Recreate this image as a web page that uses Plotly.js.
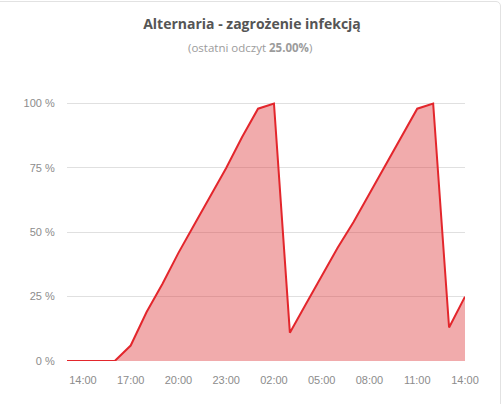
<!DOCTYPE html>
<html>
<head>
<meta charset="utf-8">
<script src="https://cdn.plot.ly/plotly-3.0.1.min.js"></script>
<style>
  html, body { margin: 0; padding: 0; background: #fff; overflow: hidden; }
  #card {
    position: absolute; left: -10px; top: 1px; width: 511px; height: 500px;
    border: 1px solid #e2e2e2; border-radius: 5px; box-sizing: border-box;
  }
  #chart { position: absolute; left: 0; top: 0; width: 504px; height: 404px; }
</style>
</head>
<body>
<div id="card"></div>
<div id="chart"></div>
<script>
// hourly readings, 13:00 to 14:00 next day
const times = [
  "2021-06-14 13:00", "2021-06-14 14:00", "2021-06-14 15:00", "2021-06-14 16:00",
  "2021-06-14 17:00", "2021-06-14 18:00", "2021-06-14 19:00", "2021-06-14 20:00",
  "2021-06-14 21:00", "2021-06-14 22:00", "2021-06-14 23:00", "2021-06-15 00:00",
  "2021-06-15 01:00", "2021-06-15 02:00", "2021-06-15 03:00", "2021-06-15 04:00",
  "2021-06-15 05:00", "2021-06-15 06:00", "2021-06-15 07:00", "2021-06-15 08:00",
  "2021-06-15 09:00", "2021-06-15 10:00", "2021-06-15 11:00", "2021-06-15 12:00",
  "2021-06-15 13:00", "2021-06-15 14:00",
];
const risk = [
  0, 0, 0, 0, 6, 19, 30, 42, 53, 64, 75, 87, 98, 100,
  11, 22, 33, 44, 54, 65, 76, 87, 98, 100, 13, 25,
];
const yTicks = [0, 25, 50, 75, 100];

const tickFont = { family: "'Liberation Sans', Arial, sans-serif", size: 11, color: "#8c8c8c" };

const trace = {
  x: times,
  y: risk,
  type: "scatter",
  mode: "lines",
  fill: "tozeroy",
  fillcolor: "rgba(222, 50, 54, 0.41)",
  line: { color: "#e3262c", width: 2 },
  hoverinfo: "skip",
};

const layout = {
  width: 504,
  height: 404,
  margin: { l: 67, r: 39, t: 102, b: 43, pad: 0 },
  paper_bgcolor: "rgba(0,0,0,0)",
  plot_bgcolor: "rgba(0,0,0,0)",
  showlegend: false,
  title: {
    text: "<b>Alternaria - zagrożenie infekcją</b>",
    x: 0.5,
    xanchor: "center",
    xref: "container",
    y: 1 - 24 / 404,
    yanchor: "middle",
    font: { family: "'Open Sans', Lato, sans-serif", size: 14, color: "#555555" },
  },
  annotations: [
    {
      text: "(ostatni odczyt <b>25.00%</b>)",
      xref: "paper",
      yref: "paper",
      x: (250 - 67) / 398,
      y: (361 - 48) / 259,
      xanchor: "center",
      yanchor: "middle",
      showarrow: false,
      font: { family: "'Open Sans', Lato, sans-serif", size: 11.5, color: "#9c9c9c" },
    },
  ],
  xaxis: {
    type: "date",
    range: [times[0], times[times.length - 1]],
    tick0: "2021-06-14 14:00",
    dtick: 3 * 3600 * 1000,
    tickformat: "%H:%M",
    showgrid: false,
    zeroline: false,
    showline: false,
    ticks: "outside",
    ticklen: 9,
    tickcolor: "rgba(0,0,0,0)",
    tickfont: tickFont,
    fixedrange: true,
  },
  yaxis: {
    range: [0, 100.6],
    tickvals: yTicks,
    ticktext: yTicks.map((v) => v + " %"),
    showgrid: true,
    gridcolor: "#e0e0e0",
    gridwidth: 1,
    zeroline: false,
    showline: false,
    ticks: "outside",
    ticklen: 9,
    tickcolor: "rgba(0,0,0,0)",
    tickfont: tickFont,
    fixedrange: true,
  },
};

const config = { displayModeBar: false, staticPlot: true };

Plotly.newPlot("chart", [trace], layout, config);
</script>
</body>
</html>
